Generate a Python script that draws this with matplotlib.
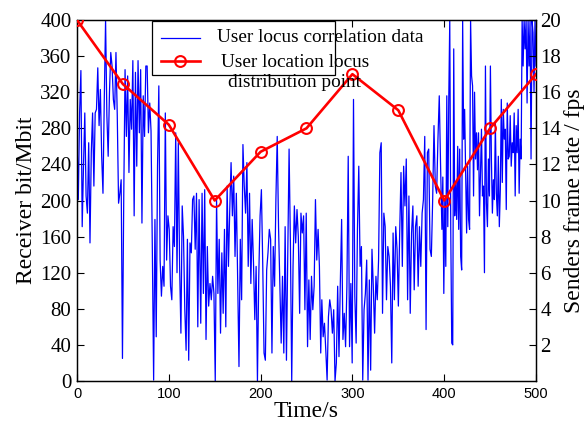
import numpy as np
import matplotlib
matplotlib.use("Agg")
import matplotlib.pyplot as plt
from matplotlib.patches import Rectangle
from matplotlib.lines import Line2D

# ---------------- data ----------------
seg1_range = (0.0, 133.0)
seg1 = [271, 201, 297, 344, 171, 238, 297, 205, 186, 264, 153, 253, 297, 216, 297, 301,
        347, 283, 323, 249, 208, 312, 400, 294, 249, 320, 364, 349, 312, 301, 364, 294,
        197, 208, 223, 25, 205, 345, 271, 338, 231, 312, 279, 355, 183, 342, 238, 355,
        275, 345, 175, 316, 271, 349, 349, 275, 308, 277, 146, 1, 179, 49, 238, 327,
        134, 94, 127, 105, 297, 134, 183, 168, 105, 90, 171, 149, 275, 120, 264, 127,
        53, 194, 160, 79, 34, 157, 23, 153, 142, 201, 205, 146, 208, 60, 201]
seg2_range = (134.8, 265.5)
seg2 = [64, 208, 97, 212, 46, 149, 83, 108, 90, 116, 97, 0, 201, 97, 157, 53, 142, 75,
        168, 60, 216, 127, 190, 242, 183, 227, 138, 208, 112, 16, 157, 90, 262, 216, 186,
        242, 127, 208, 108, 179, 131, 68, 127, 0, 116, 183, 212, 131, 31, 23, 123, 142,
        168, 157, 31, 149, 105, 201, 271, 171, 105, 42, 116, 31, 171, 23, 138, 257, 153,
        0, 127, 194, 153, 190, 160, 75, 186, 164, 183, 79, 186, 38, 112, 46, 116, 79, 105,
        201, 134, 168, 127, 31]
seg3_range = (266.7, 397.5)
seg3 = [90, 49, 64, 34, 1, 71, 90, 79, 53, 79, 0, 20, 105, 27, 108, 179, 46, 75, 38, 105,
        249, 38, 108, 20, 312, 94, 42, 168, 238, 127, 149, 1, 79, 97, 134, 1, 112, 12, 146,
        105, 53, 116, 90, 134, 253, 264, 75, 186, 171, 90, 149, 138, 105, 20, 164, 90, 171,
        146, 83, 164, 231, 127, 238, 194, 246, 90, 205, 75, 164, 194, 101, 171, 183, 105,
        171, 127, 186, 201, 271, 57, 253, 257, 146, 138, 201, 283, 216, 208, 268, 316, 238,
        168]
seg4_range = (398.5, 500.0)
seg4 = [226, 97, 201, 127, 316, 171, 312, 400, 168, 42, 40, 368, 183, 220, 179, 260, 168,
        257, 138, 123, 400, 268, 301, 231, 164, 238, 179, 168, 400, 338, 327, 205, 320, 246,
        275, 234, 275, 183, 231, 279, 205, 216, 120, 349, 197, 171, 246, 205, 349, 246, 186,
        223, 201, 286, 208, 183, 249, 171, 212, 312, 220, 301, 268, 279, 190, 308, 246, 249,
        294, 238, 264, 253, 297, 205, 283, 253, 301, 208, 268, 246, 400, 349, 400, 368, 400,
        308, 400, 349, 400, 246, 400, 386, 320, 400, 349]

red_time = [0, 50, 100, 150, 200, 250, 300, 350, 400, 450, 500]
red_fps = [20, 16.45, 14.2, 10.0, 12.7, 14.0, 17.0, 15.0, 10.0, 14.0, 17.0]

blue_label = "User locus correlation data"
red_label = "User location locus\ndistribution point"
xticks = [0, 100, 200, 300, 400, 500]
left_ticks = list(range(0, 401, 40))
right_ticks = list(range(2, 21, 2))

# build time axis for each segment
segs = [(seg1_range, seg1), (seg2_range, seg2), (seg3_range, seg3), (seg4_range, seg4)]
t_all, v_all = [], []
for (a, b), vals in segs:
    t_all.append(np.linspace(a, b, len(vals)))
    v_all.append(np.array(vals, dtype=float))
t_all = np.concatenate(t_all)
v_all = np.concatenate(v_all)

# ---------------- figure ----------------
W, H = 588, 426
fig = plt.figure(figsize=(W / 100, H / 100), dpi=100)
L, R, T, B = 77, 536, 20, 381
ax = fig.add_axes([L / W, (H - B) / H, (R - L) / W, (B - T) / H])

serif = "Liberation Serif"
sans = "Liberation Sans"

ax.plot(t_all, v_all, color=(0, 0, 1), lw=0.9, zorder=2)
ax.set_xlim(0, 500)
ax.set_ylim(0, 400)
ax.set_xticks(xticks)
ax.set_yticks(left_ticks)
ax.tick_params(direction="in", length=5, width=0.8, top=True, right=False, pad=4)
for lab in ax.get_xticklabels():
    lab.set_fontfamily(sans)
    lab.set_fontsize(10.5)
for lab in ax.get_yticklabels():
    lab.set_fontfamily(serif)
    lab.set_fontsize(15)
ax.set_xlabel("Time/s", fontfamily=serif, fontsize=17, labelpad=0)
ax.set_ylabel("Receiver bit/Mbit", fontfamily=serif, fontsize=17, labelpad=2)

ax2 = ax.twinx()
ax2.plot(red_time, red_fps, color=(1, 0, 0), lw=1.9, marker="o", ms=7.8,
         mfc="none", mec=(1, 0, 0), mew=1.5, zorder=3)
ax2.set_ylim(0, 20)
ax2.set_yticks(right_ticks)
ax2.tick_params(direction="in", length=5, width=0.8, pad=3)
for lab in ax2.get_yticklabels():
    lab.set_fontfamily(serif)
    lab.set_fontsize(15)
ax2.set_ylabel("Senders frame rate / fps", fontfamily=serif, fontsize=17, labelpad=2)

for a in (ax, ax2):
    for s in a.spines.values():
        s.set_linewidth(0.9)

# ---------------- legend (MATLAB-like clipped box) ----------------
def fx(x):
    return (x - L) / (R - L)

def fy(y):
    return (B - y) / (B - T)

tr = ax2.transAxes
box = Rectangle((fx(152), fy(75)), fx(335) - fx(152), fy(21.5) - fy(75), transform=tr,
                facecolor="white", edgecolor="black", lw=0.9, zorder=10, clip_on=False)
ax2.add_patch(box)
h1 = Line2D([fx(161), fx(200)], [fy(38), fy(38)], transform=tr, color=(0, 0, 1), lw=0.9,
            zorder=11)
h2 = Line2D([fx(161), fx(200)], [fy(61), fy(61)], transform=tr, color=(1, 0, 0), lw=1.9,
            zorder=11)
h2m = Line2D([fx(180.5)], [fy(61)], transform=tr, color=(1, 0, 0), marker="o", ms=7.8,
             mfc="none", mew=1.5, zorder=11)
for h in (h1, h2, h2m):
    ax2.add_line(h)
ax2.text(fx(217), fy(38), blue_label, transform=tr, fontfamily=serif, fontsize=13.9,
         va="center", ha="left", zorder=12)
ax2.text(fx(295), fy(72.5), red_label, transform=tr, fontfamily=serif, fontsize=13.9,
         va="center", ha="center", multialignment="center", linespacing=1.2, zorder=12)

fig.savefig("out.png", dpi=100)
